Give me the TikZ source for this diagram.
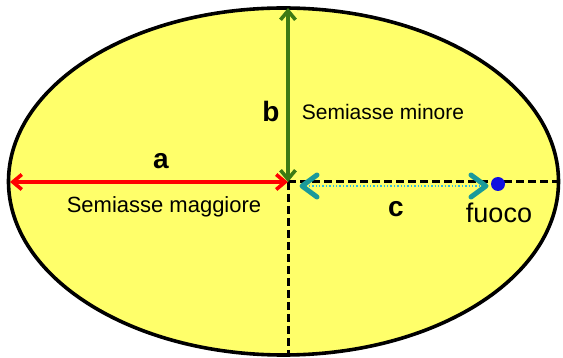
\documentclass[tikz,border=0pt]{standalone}
\usepackage{fontspec}
\setmainfont{Liberation Sans}
\usetikzlibrary{arrows.meta,calc}
\definecolor{ellfill}{HTML}{FFFF6A}
\definecolor{axgreen}{HTML}{3C7A14}
\definecolor{teal2}{HTML}{1A9A9A}
\definecolor{dotcyan}{HTML}{33BBDD}
\definecolor{focblue}{HTML}{1010E0}
\tikzset{
  axisdash/.style={black, line width=3pt, dash pattern=on 8pt off 4pt},
  lbl/.style={font=\fontsize{22}{26}\selectfont, inner sep=0pt},
  letter/.style={font=\fontsize{28}{32}\selectfont\bfseries, inner sep=0pt},
  axarrow/.style={line width=3.6pt, {Straight Barb[length=9pt,width=15pt]}-{Straight Barb[length=9pt,width=15pt]}},
  chevron/.style={teal2, line width=5pt, line cap=round, line join=round},
}
\begin{document}
\begin{tikzpicture}[x=1pt,y=-1pt]
\useasboundingbox (0,0) rectangle (563,358);
\coordinate (O) at (288,182);
\coordinate (L) at (10,182);
\coordinate (T) at (288,8);
\coordinate (R) at (558,182);
\coordinate (B) at (288,355);
\draw[fill=ellfill, line width=3.6pt] (283.5,181.5) ellipse [x radius=275, y radius=173.5];
% dashed axes
\draw[axisdash] (O) -- (R);
\draw[axisdash] (O) -- (B);
% red semi-major axis
\draw[red, axarrow] (L) -- (O);
% green semi-minor axis
\draw[axgreen, axarrow] (T) -- (O);
% focus
\node[circle, fill=focblue, minimum size=14pt, inner sep=0pt] (F) at (498,184) {};
\coordinate (C1) at (302,186);
\coordinate (C2) at (486,186);
\draw[dotcyan, line width=1.4pt, dotted] (C1) -- (C2);
\draw[chevron] ($(C1)+(15,-11)$) -- (C1) -- ($(C1)+(15,11)$);
\draw[chevron] ($(C2)+(-15,-11)$) -- (C2) -- ($(C2)+(-15,11)$);
% labels
\node[letter] (la) at (161,161) {a};
\node[lbl] (sm) at (164,207) {Semiasse maggiore};
\node[letter] (lb) at (271,111) {b};
\node[font=\fontsize{21}{25}\selectfont, inner sep=0pt] (sn) at (383,112) {Semiasse minore};
\node[letter] (lc) at (396,209) {c};
\node[font=\fontsize{27}{31}\selectfont, inner sep=0pt] (fu) at (499,213) {fuoco};
\end{tikzpicture}
\end{document}
